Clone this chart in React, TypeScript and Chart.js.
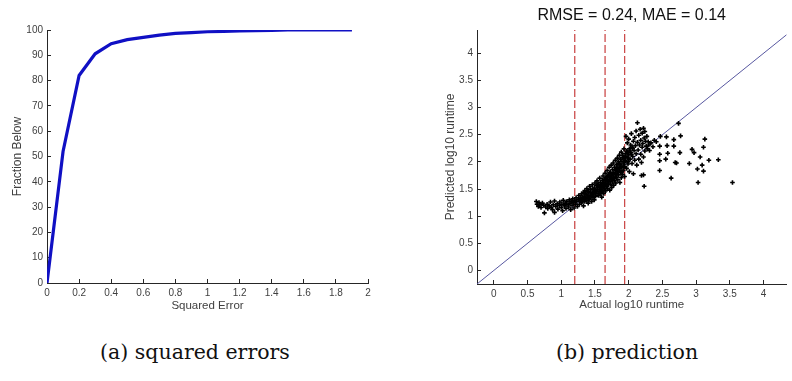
import React, { useEffect, useRef } from "react";
import { Chart, registerables } from "chart.js";

Chart.register(...registerables);

// ---------- data: (a) squared errors ----------
const errX = [0, 0.1, 0.2, 0.3, 0.4, 0.5, 0.6, 0.7, 0.8, 0.9, 1.0, 1.1, 1.2, 1.3, 1.4, 1.5, 1.6, 1.7, 1.8, 1.9];
const fractionBelow = [0, 52, 82, 90.6, 94.6, 96.2, 97.1, 98, 98.7, 99, 99.3, 99.4, 99.6, 99.7, 99.8, 100, 100, 100, 100, 100];

// ---------- data: (b) prediction ----------
const predTitle = "RMSE = 0.24, MAE = 0.14";
const axisMin = -0.25;
const axisMaxY = 4.43;
const axisMaxX = 4.34;
const dashedX = [1.2, 1.65, 1.94];

const lowTail: [number, number][] = [
  [0.63, 1.27], [0.64, 1.22], [0.66, 1.18], [0.67, 1.25], [0.68, 1.21], [0.70, 1.16], [0.72, 1.24], [0.74, 1.20],
  [0.75, 1.06], [0.77, 1.17], [0.79, 1.22], [0.80, 1.14], [0.82, 1.19], [0.84, 1.26], [0.85, 1.16], [0.87, 1.12],
  [0.88, 1.21], [0.90, 1.07], [0.90, 1.28], [0.92, 1.18], [0.94, 1.23], [0.95, 1.13], [0.97, 1.20], [0.98, 1.26],
  [1.00, 1.16], [1.01, 1.22], [1.02, 1.10], [1.03, 1.29], [1.05, 1.19], [1.06, 1.24], [1.07, 1.14], [1.08, 1.27],
  [1.10, 1.21], [1.11, 1.17], [1.12, 1.30], [1.13, 1.24], [1.14, 1.12], [1.15, 1.27], [1.16, 1.20], [1.17, 1.32],
  [1.18, 1.25], [1.19, 1.15], [1.20, 1.29], [1.21, 1.22], [1.22, 1.34], [1.23, 1.27], [1.24, 1.18], [1.25, 1.31],
];

const core: [number, number][] = [
  [1.26, 1.38], [1.27, 1.22], [1.28, 1.33], [1.29, 1.28], [1.30, 1.41], [1.30, 1.25], [1.31, 1.35], [1.32, 1.30],
  [1.33, 1.44], [1.33, 1.19], [1.34, 1.37], [1.35, 1.27], [1.35, 1.47], [1.36, 1.32],
  [1.37, 1.40], [1.38, 1.29], [1.38, 1.51], [1.39, 1.35], [1.40, 1.45], [1.40, 1.24], [1.41, 1.38], [1.42, 1.55],
  [1.42, 1.31], [1.43, 1.43], [1.44, 1.36], [1.44, 1.49], [1.45, 1.27], [1.46, 1.41], [1.46, 1.58], [1.47, 1.34],
  [1.48, 1.46], [1.48, 1.39], [1.49, 1.52], [1.49, 1.30], [1.50, 1.43], [1.50, 1.61],
  [1.51, 1.48], [1.51, 1.37], [1.52, 1.56], [1.53, 1.42], [1.53, 1.65], [1.54, 1.50], [1.55, 1.38], [1.55, 1.59],
  [1.56, 1.46], [1.57, 1.53], [1.57, 1.70], [1.58, 1.41], [1.58, 1.62], [1.59, 1.50], [1.60, 1.57], [1.60, 1.35],
  [1.61, 1.66], [1.61, 1.45], [1.62, 1.53], [1.62, 1.74], [1.63, 1.60], [1.63, 1.42], [1.64, 1.68], [1.64, 1.50],
  [1.65, 1.57], [1.65, 1.79],
  [1.66, 1.63], [1.66, 1.47], [1.67, 1.72], [1.67, 1.55], [1.68, 1.84], [1.68, 1.60], [1.69, 1.51], [1.69, 1.68],
  [1.70, 1.77], [1.70, 1.58], [1.71, 1.90], [1.71, 1.64], [1.72, 1.48], [1.72, 1.72], [1.73, 1.81], [1.73, 1.59],
  [1.74, 1.67], [1.74, 1.94], [1.75, 1.53], [1.75, 1.75], [1.76, 1.86], [1.76, 1.63], [1.77, 1.71], [1.77, 1.98],
  [1.78, 1.57], [1.78, 1.80], [1.79, 1.90], [1.79, 1.66], [1.80, 1.74], [1.80, 2.03],
  [1.81, 1.84], [1.81, 1.61], [1.82, 1.95], [1.82, 1.72], [1.83, 2.07], [1.83, 1.79], [1.84, 1.67], [1.84, 1.90],
  [1.85, 2.00], [1.85, 1.76], [1.86, 2.12], [1.86, 1.85], [1.87, 1.62], [1.87, 1.95], [1.88, 2.05], [1.88, 1.81],
  [1.89, 1.71], [1.89, 2.18], [1.90, 1.90], [1.90, 2.01], [1.91, 1.77], [1.91, 2.12], [1.92, 1.96], [1.92, 1.84],
  [1.93, 2.24], [1.93, 2.06], [1.94, 1.73], [1.94, 1.92], [1.95, 2.15], [1.95, 2.02],
  [1.28, 1.30], [1.31, 1.27], [1.34, 1.31], [1.36, 1.42], [1.39, 1.46], [1.41, 1.33], [1.43, 1.49], [1.45, 1.39],
  [1.47, 1.50], [1.49, 1.45], [1.52, 1.46], [1.54, 1.58], [1.56, 1.42], [1.58, 1.55], [1.60, 1.47], [1.62, 1.62],
  [1.64, 1.58], [1.66, 1.70], [1.68, 1.66], [1.70, 1.65], [1.72, 1.80], [1.74, 1.74], [1.76, 1.78], [1.78, 1.70],
  [1.80, 1.85], [1.82, 1.88], [1.84, 1.82], [1.86, 1.97], [1.88, 1.92], [1.90, 1.82], [1.92, 2.08], [1.94, 2.00],
  [1.57, 1.49], [1.63, 1.54], [1.69, 1.74], [1.75, 1.69], [1.81, 1.77], [1.87, 1.88], [1.93, 1.90], [1.99, 2.00],
];

const upper: [number, number][] = [
  [1.96, 2.47], [1.97, 1.88], [1.97, 2.20], [1.98, 2.08], [1.98, 2.35], [1.99, 1.96], [2.00, 2.13], [2.00, 2.42],
  [2.01, 2.24], [2.01, 1.82], [2.02, 2.05], [2.03, 2.31], [2.03, 2.17], [2.04, 2.52], [2.05, 1.97], [2.05, 2.27],
  [2.06, 2.10], [2.07, 2.38], [2.07, 1.78], [2.08, 2.21], [2.09, 2.45], [2.09, 2.03], [2.10, 2.30], [2.11, 2.15],
  [2.11, 2.57], [2.12, 1.94], [2.13, 2.36], [2.13, 2.72], [2.14, 2.22], [2.15, 2.49], [2.15, 2.05], [2.16, 2.31],
  [2.17, 2.60], [2.18, 2.14], [2.18, 2.40], [2.19, 1.99], [2.20, 2.27], [2.20, 2.53], [2.21, 2.34], [2.22, 2.62],
  [2.22, 2.09], [2.23, 2.44], [2.24, 2.20], [2.24, 2.56], [2.25, 2.38], [2.26, 2.29], [2.27, 2.47], [2.28, 2.24],
  [2.29, 2.37], [2.30, 2.31], [2.31, 2.21], [2.33, 2.35], [1.96, 2.10], [1.98, 2.18], [2.00, 2.05], [2.02, 2.20],
  [2.04, 2.14], [2.06, 2.25], [2.19, 1.75], [2.22, 1.76], [2.23, 1.55],
];

const outliers: [number, number][] = [
  [2.36, 2.28], [2.38, 2.40], [2.41, 2.37], [2.46, 2.29], [2.46, 2.14], [2.46, 2.02], [2.46, 1.84], [2.47, 2.47],
  [2.55, 2.05], [2.56, 2.46], [2.57, 2.30], [2.58, 2.16], [2.63, 1.70], [2.67, 2.41], [2.67, 2.29], [2.69, 1.99],
  [2.71, 1.98], [2.74, 2.71], [2.76, 2.17], [2.77, 2.48],
  [2.90, 1.97], [2.94, 2.23], [2.97, 2.17], [3.02, 1.87], [3.03, 1.62], [3.06, 2.09], [3.09, 1.94], [3.11, 1.83],
  [3.11, 2.27], [3.13, 2.42], [3.19, 2.03], [3.33, 2.04], [3.54, 1.62],
];

// ---------- styles ----------
const SANS = "'Liberation Sans', Arial, Helvetica, sans-serif";
const SERIF = "'DejaVu Serif', serif";
const AX = "#262626";
const TXT = "#404040";

const fmt = (v: number | string) => {
  const n = Number(v);
  return String(Math.round(n * 100) / 100);
};

function axisCommon(extra: any) {
  return {
    type: "linear",
    border: { display: true, color: AX, width: 1 },
    grid: { display: true, drawOnChartArea: false, drawTicks: true, tickLength: -4, color: AX, tickWidth: 1 },
    ...extra,
  };
}

function ChartA() {
  const ref = useRef<HTMLCanvasElement>(null);
  useEffect(() => {
    const chart = new Chart(ref.current!, {
      type: "line",
      data: {
        datasets: [
          {
            data: errX.map((x, i) => ({ x, y: fractionBelow[i] })),
            borderColor: "#1010c4",
            borderWidth: 3.2,
            pointRadius: 0,
            tension: 0,
            fill: false,
          },
        ],
      },
      options: {
        animation: false,
        responsive: false,
        events: [],
        layout: { padding: { top: 30, right: 28, left: 0, bottom: 0 } },
        plugins: { legend: { display: false }, tooltip: { enabled: false }, title: { display: false } },
        scales: {
          x: axisCommon({
            min: 0,
            max: 2,
            afterFit: (s: any) => { s.height = 37; },
            ticks: { stepSize: 0.2, autoSkip: false, maxRotation: 0, padding: 8, color: TXT, font: { size: 10, family: SANS }, callback: fmt },
            title: { display: true, text: "Squared Error", color: TXT, font: { size: 11.5, family: SANS }, padding: { top: 0, bottom: 7 } },
          }),
          y: axisCommon({
            min: 0,
            max: 100,
            afterFit: (s: any) => { s.width = 47; },
            ticks: { stepSize: 10, autoSkip: false, padding: 8, color: TXT, font: { size: 10, family: SANS }, callback: fmt },
            title: { display: true, text: "Fraction Below", color: TXT, font: { size: 12, family: SANS }, padding: { top: 10, bottom: 0 } },
          }),
        },
      } as any,
    });
    return () => chart.destroy();
  }, []);
  return <canvas ref={ref} width={396} height={320} style={{ position: "absolute", left: 0, top: 0 }} />;
}

function ChartB() {
  const ref = useRef<HTMLCanvasElement>(null);
  useEffect(() => {
    const toPts = (arr: [number, number][]) => arr.map(([x, y]) => ({ x, y }));
    const allPts = [...toPts(lowTail), ...toPts(core), ...toPts(upper), ...toPts(outliers)];
    const chart = new Chart(ref.current!, {
      type: "scatter",
      data: {
        datasets: [
          {
            type: "scatter",
            data: allPts,
            pointStyle: "cross",
            pointRadius: 2.3,
            pointBorderWidth: 1.6,
            borderColor: "#000",
            backgroundColor: "#000",
          },
          ...dashedX.map((x) => ({
            type: "line",
            data: [{ x, y: axisMin }, { x, y: axisMaxY }],
            borderColor: "#cc4c4c",
            borderWidth: 1.3,
            borderDash: [8, 3],
            pointRadius: 0,
            fill: false,
          })),
          {
            type: "line",
            data: [{ x: axisMin, y: axisMin }, { x: axisMaxY, y: axisMaxY }],
            borderColor: "#5858a0",
            borderWidth: 1,
            pointRadius: 0,
            fill: false,
          },
        ],
      },
      options: {
        animation: false,
        responsive: false,
        events: [],
        layout: { padding: { top: 0, right: 0, left: 0, bottom: 0 } },
        plugins: {
          legend: { display: false },
          tooltip: { enabled: false },
          title: {
            display: true,
            text: predTitle,
            fullSize: false,
            color: "#111",
            font: { size: 16, family: SANS, weight: "normal" },
            padding: { top: 6, bottom: 4.8 },
          },
        },
        scales: {
          x: axisCommon({
            min: axisMin,
            max: axisMaxX,
            afterFit: (s: any) => { s.height = 36; },
            ticks: { stepSize: 0.5, includeBounds: false, autoSkip: false, maxRotation: 0, padding: 8, color: TXT, font: { size: 10, family: SANS }, callback: fmt },
            title: { display: true, text: "Actual log10 runtime", color: TXT, font: { size: 11.5, family: SANS }, padding: { top: 0, bottom: 8 } },
          }),
          y: axisCommon({
            min: axisMin,
            max: axisMaxY,
            afterFit: (s: any) => { s.width = 77; },
            ticks: { stepSize: 0.5, includeBounds: false, autoSkip: false, padding: 8, color: TXT, font: { size: 10, family: SANS }, callback: fmt },
            title: { display: true, text: "Predicted log10 runtime", color: TXT, font: { size: 12, family: SANS }, padding: { top: 43, bottom: 0 } },
          }),
        },
      } as any,
    });
    return () => chart.destroy();
  }, []);
  return <canvas ref={ref} width={392} height={320} style={{ position: "absolute", left: 400, top: 0 }} />;
}

const captionStyle: React.CSSProperties = {
  position: "absolute",
  top: 340,
  width: 300,
  textAlign: "center",
  fontFamily: SERIF,
  fontSize: 20.5,
  lineHeight: "24px",
  color: "#111",
  whiteSpace: "nowrap",
};

export default function App() {
  return (
    <div style={{ position: "fixed", left: 0, top: 0, width: 792, height: 381, background: "#fff", overflow: "hidden" }}>
      <ChartA />
      <ChartB />
      <div style={{ ...captionStyle, left: 195 - 150 }}>(a) squared errors</div>
      <div style={{ ...captionStyle, left: 627 - 150 }}>(b) prediction</div>
    </div>
  );
}
